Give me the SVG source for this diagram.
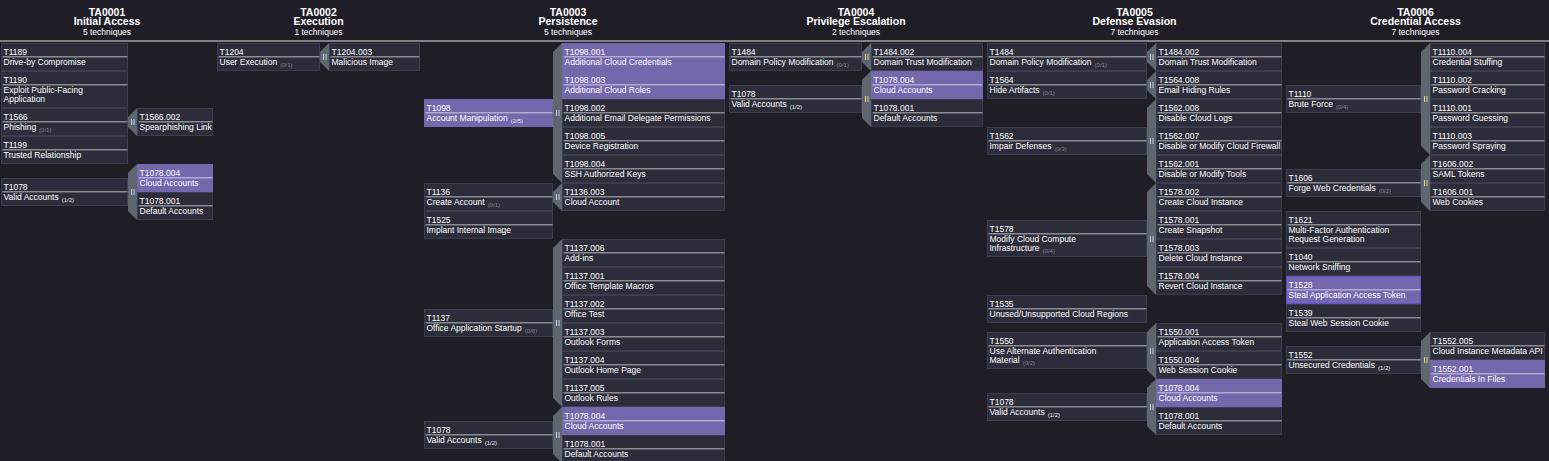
<svg xmlns="http://www.w3.org/2000/svg" width="1549" height="461" viewBox="0 0 1549 461">
<style>
.bg{fill:#1f1e26}
.c{fill:#2d2c3a;stroke:#3e3d4e;stroke-width:1}
.p{fill:#7468ad;stroke:#7468ad;stroke-width:1}
.pb{fill:#7468ad;stroke:#5e52d8;stroke-width:1}
.bar{fill:#ffffff;fill-opacity:.45}
text{font-family:"Liberation Sans",Arial,sans-serif;fill:#ffffff}
.t{font-size:8.5px}
.k0{font-size:6px;fill:#85858f}
.k1{font-size:6px;fill:#ececf2}
.hd{font-size:10.5px;font-weight:bold;text-anchor:middle}
.hs{font-size:8.5px;text-anchor:middle}
.sb{fill:#5f666f}
.mb{fill:#c2ccef}
.my{fill:#ddd48e}
</style>
<rect class="bg" x="0" y="0" width="1549" height="461"/>

<g id="headers">
<text class="hd" x="107" y="16">TA0001</text><text class="hd" x="107" y="25">Initial Access</text><text class="hs" x="107" y="35">5 techniques</text>
<text class="hd" x="318.5" y="16">TA0002</text><text class="hd" x="318.5" y="25">Execution</text><text class="hs" x="318.5" y="35">1 techniques</text>
<text class="hd" x="568" y="16">TA0003</text><text class="hd" x="568" y="25">Persistence</text><text class="hs" x="568" y="35">5 techniques</text>
<text class="hd" x="856" y="16">TA0004</text><text class="hd" x="856" y="25">Privilege Escalation</text><text class="hs" x="856" y="35">2 techniques</text>
<text class="hd" x="1134.5" y="16">TA0005</text><text class="hd" x="1134.5" y="25">Defense Evasion</text><text class="hs" x="1134.5" y="35">7 techniques</text>
<text class="hd" x="1415.5" y="16">TA0006</text><text class="hd" x="1415.5" y="25">Credential Access</text><text class="hs" x="1415.5" y="35">7 techniques</text>
<rect x="0" y="40.5" width="1549" height="1" fill="#e6e6e6"/>
</g>

<g id="connectors">
<polygon class="sb" points="128,117 137,108 137,136 128,127"/><rect class="mb" x="131" y="119" width="1" height="6"/><rect class="mb" x="133.5" y="119" width="1" height="6"/>
<polygon class="sb" points="128,173 137,164 137,220 128,211"/><rect class="mb" x="131" y="189" width="1" height="6"/><rect class="mb" x="133.5" y="189" width="1" height="6"/>
<polygon class="sb" points="320,52 329,43 329,71 320,62"/><rect class="mb" x="323" y="54" width="1" height="6"/><rect class="mb" x="325.5" y="54" width="1" height="6"/>
<polygon class="sb" points="553,52 562,43 562,183 553,174"/><rect class="mb" x="556" y="110" width="1" height="6"/><rect class="mb" x="558.5" y="110" width="1" height="6"/>
<polygon class="sb" points="553,192 562,183 562,211 553,202"/><rect class="mb" x="556" y="194" width="1" height="6"/><rect class="mb" x="558.5" y="194" width="1" height="6"/>
<polygon class="sb" points="553,248 562,239 562,407 553,398"/><rect class="mb" x="556" y="320" width="1" height="6"/><rect class="mb" x="558.5" y="320" width="1" height="6"/>
<polygon class="sb" points="553,416 562,407 562,463 553,454"/><rect class="mb" x="556" y="432" width="1" height="6"/><rect class="mb" x="558.5" y="432" width="1" height="6"/>
<polygon class="sb" points="862,52 871,43 871,71 862,62"/><rect class="my" x="865" y="54" width="1" height="6"/><rect class="my" x="867.5" y="54" width="1" height="6"/>
<polygon class="sb" points="862,80 871,71 871,127 862,118"/><rect class="my" x="865" y="96" width="1" height="6"/><rect class="my" x="867.5" y="96" width="1" height="6"/>
<polygon class="sb" points="1147,52 1156,43 1156,71 1147,62"/><rect class="mb" x="1150" y="54" width="1" height="6"/><rect class="mb" x="1152.5" y="54" width="1" height="6"/>
<polygon class="sb" points="1147,80 1156,71 1156,99 1147,90"/><rect class="mb" x="1150" y="82" width="1" height="6"/><rect class="mb" x="1152.5" y="82" width="1" height="6"/>
<polygon class="sb" points="1147,108 1156,99 1156,183 1147,174"/><rect class="mb" x="1150" y="138" width="1" height="6"/><rect class="mb" x="1152.5" y="138" width="1" height="6"/>
<polygon class="sb" points="1147,192 1156,183 1156,295 1147,286"/><rect class="mb" x="1150" y="236" width="1" height="6"/><rect class="mb" x="1152.5" y="236" width="1" height="6"/>
<polygon class="sb" points="1147,332 1156,323 1156,379 1147,370"/><rect class="mb" x="1150" y="348" width="1" height="6"/><rect class="mb" x="1152.5" y="348" width="1" height="6"/>
<polygon class="sb" points="1147,388 1156,379 1156,435 1147,426"/><rect class="mb" x="1150" y="404" width="1" height="6"/><rect class="mb" x="1152.5" y="404" width="1" height="6"/>
<polygon class="sb" points="1421,52 1430,43 1430,155 1421,146"/><rect class="my" x="1424" y="96" width="1" height="6"/><rect class="my" x="1426.5" y="96" width="1" height="6"/>
<polygon class="sb" points="1421,164 1430,155 1430,211 1421,202"/><rect class="my" x="1424" y="180" width="1" height="6"/><rect class="my" x="1426.5" y="180" width="1" height="6"/>
<polygon class="sb" points="1421,341 1430,332 1430,388 1421,379"/><rect class="my" x="1424" y="357" width="1" height="6"/><rect class="my" x="1426.5" y="357" width="1" height="6"/>
</g>

<!-- TA0001 -->
<g id="ta1-T1189"><rect class="c" x="1.5" y="43.5" width="126" height="27"/><text class="t" x="3.5" y="55">T1189</text><rect class="bar" x="2.5" y="56" width="125" height="1.5"/><text class="t" x="3.5" y="64.5">Drive-by Compromise</text></g>
<g id="ta1-T1190"><rect class="c" x="1.5" y="71.5" width="126" height="36"/><text class="t" x="3.5" y="83">T1190</text><rect class="bar" x="2.5" y="84" width="125" height="1.5"/><text class="t" x="3.5" y="92.5">Exploit Public-Facing</text><text class="t" x="3.5" y="101.5">Application</text></g>
<g id="ta1-T1566"><rect class="c" x="1.5" y="108.5" width="126" height="27"/><text class="t" x="3.5" y="120">T1566</text><rect class="bar" x="2.5" y="121" width="125" height="1.5"/><text class="t" x="3.5" y="129.5">Phishing<tspan class="k0" dx="3" dy="2.5">(0/1)</tspan></text></g>
<g id="ta1-T1199"><rect class="c" x="1.5" y="136.5" width="126" height="27"/><text class="t" x="3.5" y="148">T1199</text><rect class="bar" x="2.5" y="149" width="125" height="1.5"/><text class="t" x="3.5" y="157.5">Trusted Relationship</text></g>
<g id="ta1-T1078"><rect class="c" x="1.5" y="178.5" width="126" height="27"/><text class="t" x="3.5" y="190">T1078</text><rect class="bar" x="2.5" y="191" width="125" height="1.5"/><text class="t" x="3.5" y="199.5">Valid Accounts<tspan class="k1" dx="3" dy="2.5">(1/2)</tspan></text></g>
<g id="ta1-T1566.002"><rect class="c" x="137.5" y="108.5" width="75" height="27"/><text class="t" x="139.5" y="120">T1566.002</text><rect class="bar" x="138.5" y="121" width="74" height="1.5"/><text class="t" x="139.5" y="129.5">Spearphishing Link</text></g>
<g id="ta1-T1078.004"><rect class="p" x="137.5" y="164.5" width="75" height="27"/><text class="t" x="139.5" y="176">T1078.004</text><rect class="bar" x="138.5" y="177" width="74" height="1.5"/><text class="t" x="139.5" y="185.5">Cloud Accounts</text></g>
<g id="ta1-T1078.001"><rect class="c" x="137.5" y="192.5" width="75" height="27"/><text class="t" x="139.5" y="204">T1078.001</text><rect class="bar" x="138.5" y="205" width="74" height="1.5"/><text class="t" x="139.5" y="213.5">Default Accounts</text></g>

<!-- TA0002 -->
<g id="ta2-T1204"><rect class="c" x="217.5" y="43.5" width="102" height="27"/><text class="t" x="219.5" y="55">T1204</text><rect class="bar" x="218.5" y="56" width="101" height="1.5"/><text class="t" x="219.5" y="64.5">User Execution<tspan class="k0" dx="3" dy="2.5">(0/1)</tspan></text></g>
<g id="ta2-T1204.003"><rect class="c" x="329.5" y="43.5" width="90" height="27"/><text class="t" x="331.5" y="55">T1204.003</text><rect class="bar" x="330.5" y="56" width="89" height="1.5"/><text class="t" x="331.5" y="64.5">Malicious Image</text></g>

<!-- TA0003 -->
<g id="ta3-T1098"><rect class="p" x="424.5" y="99.5" width="128" height="27"/><text class="t" x="426.5" y="111">T1098</text><rect class="bar" x="425.5" y="112" width="127" height="1.5"/><text class="t" x="426.5" y="120.5">Account Manipulation<tspan class="k1" dx="3" dy="2.5">(2/5)</tspan></text></g>
<g id="ta3-T1136"><rect class="c" x="424.5" y="183.5" width="128" height="27"/><text class="t" x="426.5" y="195">T1136</text><rect class="bar" x="425.5" y="196" width="127" height="1.5"/><text class="t" x="426.5" y="204.5">Create Account<tspan class="k0" dx="3" dy="2.5">(0/1)</tspan></text></g>
<g id="ta3-T1525"><rect class="c" x="424.5" y="211.5" width="128" height="27"/><text class="t" x="426.5" y="223">T1525</text><rect class="bar" x="425.5" y="224" width="127" height="1.5"/><text class="t" x="426.5" y="232.5">Implant Internal Image</text></g>
<g id="ta3-T1137"><rect class="c" x="424.5" y="309.5" width="128" height="27"/><text class="t" x="426.5" y="321">T1137</text><rect class="bar" x="425.5" y="322" width="127" height="1.5"/><text class="t" x="426.5" y="330.5">Office Application Startup<tspan class="k0" dx="3" dy="2.5">(0/6)</tspan></text></g>
<g id="ta3-T1078"><rect class="c" x="424.5" y="421.5" width="128" height="27"/><text class="t" x="426.5" y="433">T1078</text><rect class="bar" x="425.5" y="434" width="127" height="1.5"/><text class="t" x="426.5" y="442.5">Valid Accounts<tspan class="k1" dx="3" dy="2.5">(1/2)</tspan></text></g>
<g id="ta3-T1098.001"><rect class="p" x="562.5" y="43.5" width="162" height="27"/><text class="t" x="564.5" y="55">T1098.001</text><rect class="bar" x="563.5" y="56" width="161" height="1.5"/><text class="t" x="564.5" y="64.5">Additional Cloud Credentials</text></g>
<g id="ta3-T1098.003"><rect class="p" x="562.5" y="71.5" width="162" height="27"/><text class="t" x="564.5" y="83">T1098.003</text><rect class="bar" x="563.5" y="84" width="161" height="1.5"/><text class="t" x="564.5" y="92.5">Additional Cloud Roles</text></g>
<g id="ta3-T1098.002"><rect class="c" x="562.5" y="99.5" width="162" height="27"/><text class="t" x="564.5" y="111">T1098.002</text><rect class="bar" x="563.5" y="112" width="161" height="1.5"/><text class="t" x="564.5" y="120.5">Additional Email Delegate Permissions</text></g>
<g id="ta3-T1098.005"><rect class="c" x="562.5" y="127.5" width="162" height="27"/><text class="t" x="564.5" y="139">T1098.005</text><rect class="bar" x="563.5" y="140" width="161" height="1.5"/><text class="t" x="564.5" y="148.5">Device Registration</text></g>
<g id="ta3-T1098.004"><rect class="c" x="562.5" y="155.5" width="162" height="27"/><text class="t" x="564.5" y="167">T1098.004</text><rect class="bar" x="563.5" y="168" width="161" height="1.5"/><text class="t" x="564.5" y="176.5">SSH Authorized Keys</text></g>
<g id="ta3-T1136.003"><rect class="c" x="562.5" y="183.5" width="162" height="27"/><text class="t" x="564.5" y="195">T1136.003</text><rect class="bar" x="563.5" y="196" width="161" height="1.5"/><text class="t" x="564.5" y="204.5">Cloud Account</text></g>
<g id="ta3-T1137.006"><rect class="c" x="562.5" y="239.5" width="162" height="27"/><text class="t" x="564.5" y="251">T1137.006</text><rect class="bar" x="563.5" y="252" width="161" height="1.5"/><text class="t" x="564.5" y="260.5">Add-ins</text></g>
<g id="ta3-T1137.001"><rect class="c" x="562.5" y="267.5" width="162" height="27"/><text class="t" x="564.5" y="279">T1137.001</text><rect class="bar" x="563.5" y="280" width="161" height="1.5"/><text class="t" x="564.5" y="288.5">Office Template Macros</text></g>
<g id="ta3-T1137.002"><rect class="c" x="562.5" y="295.5" width="162" height="27"/><text class="t" x="564.5" y="307">T1137.002</text><rect class="bar" x="563.5" y="308" width="161" height="1.5"/><text class="t" x="564.5" y="316.5">Office Test</text></g>
<g id="ta3-T1137.003"><rect class="c" x="562.5" y="323.5" width="162" height="27"/><text class="t" x="564.5" y="335">T1137.003</text><rect class="bar" x="563.5" y="336" width="161" height="1.5"/><text class="t" x="564.5" y="344.5">Outlook Forms</text></g>
<g id="ta3-T1137.004"><rect class="c" x="562.5" y="351.5" width="162" height="27"/><text class="t" x="564.5" y="363">T1137.004</text><rect class="bar" x="563.5" y="364" width="161" height="1.5"/><text class="t" x="564.5" y="372.5">Outlook Home Page</text></g>
<g id="ta3-T1137.005"><rect class="c" x="562.5" y="379.5" width="162" height="27"/><text class="t" x="564.5" y="391">T1137.005</text><rect class="bar" x="563.5" y="392" width="161" height="1.5"/><text class="t" x="564.5" y="400.5">Outlook Rules</text></g>
<g id="ta3-T1078.004"><rect class="p" x="562.5" y="407.5" width="162" height="27"/><text class="t" x="564.5" y="419">T1078.004</text><rect class="bar" x="563.5" y="420" width="161" height="1.5"/><text class="t" x="564.5" y="428.5">Cloud Accounts</text></g>
<g id="ta3-T1078.001"><rect class="c" x="562.5" y="435.5" width="162" height="27"/><text class="t" x="564.5" y="447">T1078.001</text><rect class="bar" x="563.5" y="448" width="161" height="1.5"/><text class="t" x="564.5" y="456.5">Default Accounts</text></g>

<!-- TA0004 -->
<g id="ta4-T1484"><rect class="c" x="729.5" y="43.5" width="132" height="27"/><text class="t" x="731.5" y="55">T1484</text><rect class="bar" x="730.5" y="56" width="131" height="1.5"/><text class="t" x="731.5" y="64.5">Domain Policy Modification<tspan class="k0" dx="3" dy="2.5">(0/1)</tspan></text></g>
<g id="ta4-T1078"><rect class="c" x="729.5" y="85.5" width="132" height="27"/><text class="t" x="731.5" y="97">T1078</text><rect class="bar" x="730.5" y="98" width="131" height="1.5"/><text class="t" x="731.5" y="106.5">Valid Accounts<tspan class="k1" dx="3" dy="2.5">(1/2)</tspan></text></g>
<g id="ta4-T1484.002"><rect class="c" x="871.5" y="43.5" width="111" height="27"/><text class="t" x="873.5" y="55">T1484.002</text><rect class="bar" x="872.5" y="56" width="110" height="1.5"/><text class="t" x="873.5" y="64.5">Domain Trust Modification</text></g>
<g id="ta4-T1078.004"><rect class="p" x="871.5" y="71.5" width="111" height="27"/><text class="t" x="873.5" y="83">T1078.004</text><rect class="bar" x="872.5" y="84" width="110" height="1.5"/><text class="t" x="873.5" y="92.5">Cloud Accounts</text></g>
<g id="ta4-T1078.001"><rect class="c" x="871.5" y="99.5" width="111" height="27"/><text class="t" x="873.5" y="111">T1078.001</text><rect class="bar" x="872.5" y="112" width="110" height="1.5"/><text class="t" x="873.5" y="120.5">Default Accounts</text></g>

<!-- TA0005 -->
<g id="ta5-T1484"><rect class="c" x="987.5" y="43.5" width="159" height="27"/><text class="t" x="989.5" y="55">T1484</text><rect class="bar" x="988.5" y="56" width="158" height="1.5"/><text class="t" x="989.5" y="64.5">Domain Policy Modification<tspan class="k0" dx="3" dy="2.5">(0/1)</tspan></text></g>
<g id="ta5-T1564"><rect class="c" x="987.5" y="71.5" width="159" height="27"/><text class="t" x="989.5" y="83">T1564</text><rect class="bar" x="988.5" y="84" width="158" height="1.5"/><text class="t" x="989.5" y="92.5">Hide Artifacts<tspan class="k0" dx="3" dy="2.5">(0/1)</tspan></text></g>
<g id="ta5-T1562"><rect class="c" x="987.5" y="127.5" width="159" height="27"/><text class="t" x="989.5" y="139">T1562</text><rect class="bar" x="988.5" y="140" width="158" height="1.5"/><text class="t" x="989.5" y="148.5">Impair Defenses<tspan class="k0" dx="3" dy="2.5">(0/3)</tspan></text></g>
<g id="ta5-T1578"><rect class="c" x="987.5" y="220.5" width="159" height="36"/><text class="t" x="989.5" y="232">T1578</text><rect class="bar" x="988.5" y="233" width="158" height="1.5"/><text class="t" x="989.5" y="241.5">Modify Cloud Compute</text><text class="t" x="989.5" y="250.5">Infrastructure<tspan class="k0" dx="3" dy="2.5">(0/4)</tspan></text></g>
<g id="ta5-T1535"><rect class="c" x="987.5" y="295.5" width="159" height="27"/><text class="t" x="989.5" y="307">T1535</text><rect class="bar" x="988.5" y="308" width="158" height="1.5"/><text class="t" x="989.5" y="316.5">Unused/Unsupported Cloud Regions</text></g>
<g id="ta5-T1550"><rect class="c" x="987.5" y="332.5" width="159" height="36"/><text class="t" x="989.5" y="344">T1550</text><rect class="bar" x="988.5" y="345" width="158" height="1.5"/><text class="t" x="989.5" y="353.5">Use Alternate Authentication</text><text class="t" x="989.5" y="362.5">Material<tspan class="k0" dx="3" dy="2.5">(0/2)</tspan></text></g>
<g id="ta5-T1078"><rect class="c" x="987.5" y="393.5" width="159" height="27"/><text class="t" x="989.5" y="405">T1078</text><rect class="bar" x="988.5" y="406" width="158" height="1.5"/><text class="t" x="989.5" y="414.5">Valid Accounts<tspan class="k1" dx="3" dy="2.5">(1/2)</tspan></text></g>
<g id="ta5-T1484.002"><rect class="c" x="1156.5" y="43.5" width="125" height="27"/><text class="t" x="1158.5" y="55">T1484.002</text><rect class="bar" x="1157.5" y="56" width="124" height="1.5"/><text class="t" x="1158.5" y="64.5">Domain Trust Modification</text></g>
<g id="ta5-T1564.008"><rect class="c" x="1156.5" y="71.5" width="125" height="27"/><text class="t" x="1158.5" y="83">T1564.008</text><rect class="bar" x="1157.5" y="84" width="124" height="1.5"/><text class="t" x="1158.5" y="92.5">Email Hiding Rules</text></g>
<g id="ta5-T1562.008"><rect class="c" x="1156.5" y="99.5" width="125" height="27"/><text class="t" x="1158.5" y="111">T1562.008</text><rect class="bar" x="1157.5" y="112" width="124" height="1.5"/><text class="t" x="1158.5" y="120.5">Disable Cloud Logs</text></g>
<g id="ta5-T1562.007"><rect class="c" x="1156.5" y="127.5" width="125" height="27"/><text class="t" x="1158.5" y="139">T1562.007</text><rect class="bar" x="1157.5" y="140" width="124" height="1.5"/><text class="t" x="1158.5" y="148.5">Disable or Modify Cloud Firewall</text></g>
<g id="ta5-T1562.001"><rect class="c" x="1156.5" y="155.5" width="125" height="27"/><text class="t" x="1158.5" y="167">T1562.001</text><rect class="bar" x="1157.5" y="168" width="124" height="1.5"/><text class="t" x="1158.5" y="176.5">Disable or Modify Tools</text></g>
<g id="ta5-T1578.002"><rect class="c" x="1156.5" y="183.5" width="125" height="27"/><text class="t" x="1158.5" y="195">T1578.002</text><rect class="bar" x="1157.5" y="196" width="124" height="1.5"/><text class="t" x="1158.5" y="204.5">Create Cloud Instance</text></g>
<g id="ta5-T1578.001"><rect class="c" x="1156.5" y="211.5" width="125" height="27"/><text class="t" x="1158.5" y="223">T1578.001</text><rect class="bar" x="1157.5" y="224" width="124" height="1.5"/><text class="t" x="1158.5" y="232.5">Create Snapshot</text></g>
<g id="ta5-T1578.003"><rect class="c" x="1156.5" y="239.5" width="125" height="27"/><text class="t" x="1158.5" y="251">T1578.003</text><rect class="bar" x="1157.5" y="252" width="124" height="1.5"/><text class="t" x="1158.5" y="260.5">Delete Cloud Instance</text></g>
<g id="ta5-T1578.004"><rect class="c" x="1156.5" y="267.5" width="125" height="27"/><text class="t" x="1158.5" y="279">T1578.004</text><rect class="bar" x="1157.5" y="280" width="124" height="1.5"/><text class="t" x="1158.5" y="288.5">Revert Cloud Instance</text></g>
<g id="ta5-T1550.001"><rect class="c" x="1156.5" y="323.5" width="125" height="27"/><text class="t" x="1158.5" y="335">T1550.001</text><rect class="bar" x="1157.5" y="336" width="124" height="1.5"/><text class="t" x="1158.5" y="344.5">Application Access Token</text></g>
<g id="ta5-T1550.004"><rect class="c" x="1156.5" y="351.5" width="125" height="27"/><text class="t" x="1158.5" y="363">T1550.004</text><rect class="bar" x="1157.5" y="364" width="124" height="1.5"/><text class="t" x="1158.5" y="372.5">Web Session Cookie</text></g>
<g id="ta5-T1078.004"><rect class="p" x="1156.5" y="379.5" width="125" height="27"/><text class="t" x="1158.5" y="391">T1078.004</text><rect class="bar" x="1157.5" y="392" width="124" height="1.5"/><text class="t" x="1158.5" y="400.5">Cloud Accounts</text></g>
<g id="ta5-T1078.001"><rect class="c" x="1156.5" y="407.5" width="125" height="27"/><text class="t" x="1158.5" y="419">T1078.001</text><rect class="bar" x="1157.5" y="420" width="124" height="1.5"/><text class="t" x="1158.5" y="428.5">Default Accounts</text></g>

<!-- TA0006 -->
<g id="ta6-T1110"><rect class="c" x="1286.5" y="85.5" width="134" height="27"/><text class="t" x="1288.5" y="97">T1110</text><rect class="bar" x="1287.5" y="98" width="133" height="1.5"/><text class="t" x="1288.5" y="106.5">Brute Force<tspan class="k0" dx="3" dy="2.5">(0/4)</tspan></text></g>
<g id="ta6-T1606"><rect class="c" x="1286.5" y="169.5" width="134" height="27"/><text class="t" x="1288.5" y="181">T1606</text><rect class="bar" x="1287.5" y="182" width="133" height="1.5"/><text class="t" x="1288.5" y="190.5">Forge Web Credentials<tspan class="k0" dx="3" dy="2.5">(0/2)</tspan></text></g>
<g id="ta6-T1621"><rect class="c" x="1286.5" y="211.5" width="134" height="36"/><text class="t" x="1288.5" y="223">T1621</text><rect class="bar" x="1287.5" y="224" width="133" height="1.5"/><text class="t" x="1288.5" y="232.5">Multi-Factor Authentication</text><text class="t" x="1288.5" y="241.5">Request Generation</text></g>
<g id="ta6-T1040"><rect class="c" x="1286.5" y="248.5" width="134" height="27"/><text class="t" x="1288.5" y="260">T1040</text><rect class="bar" x="1287.5" y="261" width="133" height="1.5"/><text class="t" x="1288.5" y="269.5">Network Sniffing</text></g>
<g id="ta6-T1528"><rect class="pb" x="1286.5" y="276.5" width="134" height="27"/><text class="t" x="1288.5" y="288">T1528</text><rect class="bar" x="1287.5" y="289" width="133" height="1.5"/><text class="t" x="1288.5" y="297.5">Steal Application Access Token</text></g>
<g id="ta6-T1539"><rect class="c" x="1286.5" y="304.5" width="134" height="27"/><text class="t" x="1288.5" y="316">T1539</text><rect class="bar" x="1287.5" y="317" width="133" height="1.5"/><text class="t" x="1288.5" y="325.5">Steal Web Session Cookie</text></g>
<g id="ta6-T1552"><rect class="c" x="1286.5" y="346.5" width="134" height="27"/><text class="t" x="1288.5" y="358">T1552</text><rect class="bar" x="1287.5" y="359" width="133" height="1.5"/><text class="t" x="1288.5" y="367.5">Unsecured Credentials<tspan class="k1" dx="3" dy="2.5">(1/2)</tspan></text></g>
<g id="ta6-T1110.004"><rect class="c" x="1430.5" y="43.5" width="114" height="27"/><text class="t" x="1432.5" y="55">T1110.004</text><rect class="bar" x="1431.5" y="56" width="113" height="1.5"/><text class="t" x="1432.5" y="64.5">Credential Stuffing</text></g>
<g id="ta6-T1110.002"><rect class="c" x="1430.5" y="71.5" width="114" height="27"/><text class="t" x="1432.5" y="83">T1110.002</text><rect class="bar" x="1431.5" y="84" width="113" height="1.5"/><text class="t" x="1432.5" y="92.5">Password Cracking</text></g>
<g id="ta6-T1110.001"><rect class="c" x="1430.5" y="99.5" width="114" height="27"/><text class="t" x="1432.5" y="111">T1110.001</text><rect class="bar" x="1431.5" y="112" width="113" height="1.5"/><text class="t" x="1432.5" y="120.5">Password Guessing</text></g>
<g id="ta6-T1110.003"><rect class="c" x="1430.5" y="127.5" width="114" height="27"/><text class="t" x="1432.5" y="139">T1110.003</text><rect class="bar" x="1431.5" y="140" width="113" height="1.5"/><text class="t" x="1432.5" y="148.5">Password Spraying</text></g>
<g id="ta6-T1606.002"><rect class="c" x="1430.5" y="155.5" width="114" height="27"/><text class="t" x="1432.5" y="167">T1606.002</text><rect class="bar" x="1431.5" y="168" width="113" height="1.5"/><text class="t" x="1432.5" y="176.5">SAML Tokens</text></g>
<g id="ta6-T1606.001"><rect class="c" x="1430.5" y="183.5" width="114" height="27"/><text class="t" x="1432.5" y="195">T1606.001</text><rect class="bar" x="1431.5" y="196" width="113" height="1.5"/><text class="t" x="1432.5" y="204.5">Web Cookies</text></g>
<g id="ta6-T1552.005"><rect class="c" x="1430.5" y="332.5" width="114" height="27"/><text class="t" x="1432.5" y="344">T1552.005</text><rect class="bar" x="1431.5" y="345" width="113" height="1.5"/><text class="t" x="1432.5" y="353.5">Cloud Instance Metadata API</text></g>
<g id="ta6-T1552.001"><rect class="p" x="1430.5" y="360.5" width="114" height="27"/><text class="t" x="1432.5" y="372">T1552.001</text><rect class="bar" x="1431.5" y="373" width="113" height="1.5"/><text class="t" x="1432.5" y="381.5">Credentials In Files</text></g>
</svg>
